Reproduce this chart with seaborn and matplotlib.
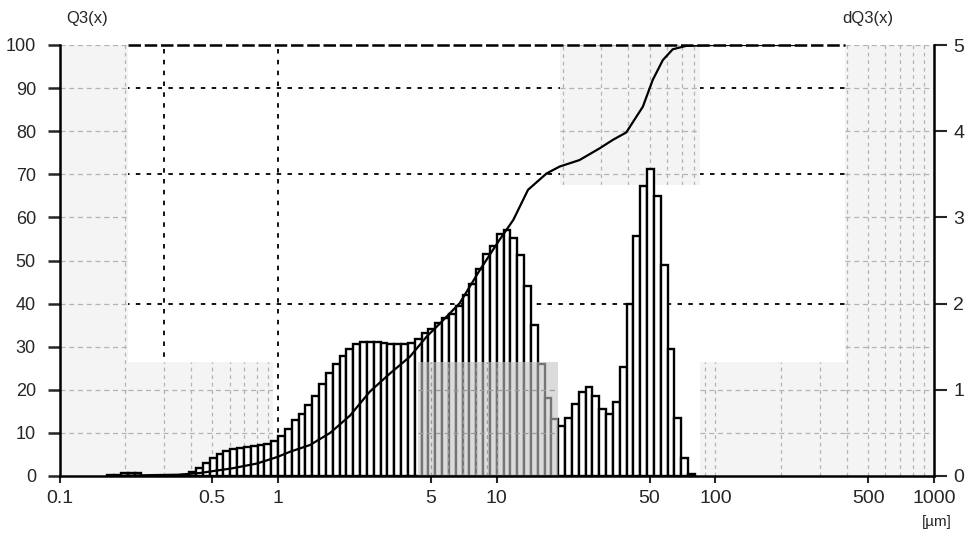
import numpy as np
import pandas as pd
import matplotlib
matplotlib.use("Agg")
import matplotlib.pyplot as plt
import seaborn as sns
from matplotlib.patches import Rectangle

# ---------------- data ----------------
# size-class index on the instrument's log grid (32 classes per decade, starting at 0.1 µm)
CLASSES_PER_DECADE = 32
CLASS_INDEX = list(range(7, 93))
# dQ3(x) per class, right axis (%)
DQ3 = [0.01, 0.01, 0.03, 0.04, 0.04, 0.005, 0.005, 0.005, 0.005, 0.005, 0.005,
       0.015, 0.05, 0.095, 0.155, 0.21, 0.25, 0.29, 0.315, 0.33, 0.34, 0.35,
       0.355, 0.37, 0.405, 0.465, 0.54, 0.65, 0.715, 0.825, 0.93, 1.065, 1.19,
       1.295, 1.39, 1.47, 1.535, 1.555, 1.56, 1.56, 1.545, 1.535, 1.535, 1.535,
       1.545, 1.585, 1.655, 1.71, 1.77, 1.835, 1.875, 1.97, 2.105, 2.225, 2.40,
       2.57, 2.67, 2.81, 2.855, 2.76, 2.56, 2.20, 1.75, 1.295, 0.905, 0.665,
       0.58, 0.675, 0.83, 0.98, 1.03, 0.925, 0.775, 0.715, 0.86, 1.27, 1.99,
       2.78, 3.365, 3.56, 3.25, 2.45, 1.47, 0.675, 0.205, 0.025]

# cumulative Q3(x), left axis (%)
Q3_SIZE = [0.18, 0.26, 0.35, 0.44, 0.62, 0.80, 0.99, 1.13, 1.40, 1.73, 2.13,
           2.63, 3.25, 4.01, 4.77, 5.5, 6.77, 8.37, 10.3, 11.9, 13.9, 16.9,
           19.4, 23.9, 29.5, 34, 39.1, 46.6, 51.7, 57.5, 63.8, 73.5, 100, 150, 259]
Q3_VALUES = [0, 0.2, 0.3, 0.7, 1.8, 2.9, 4.4, 5.6, 7.2, 10.0, 14.0,
             19.6, 23.8, 27.7, 32.3, 35.4, 40.1, 47.8, 54.8, 59.4, 66.4, 70.2,
             71.8, 73.3, 76.0, 78.0, 79.7, 85.7, 91.9, 96.5, 99.0, 99.8, 100, 100, 100]

X_TICKS = [0.1, 0.5, 1, 5, 10, 50, 100, 500, 1000]
X_TICK_LABELS = ["0.1", "0.5", "1", "5", "10", "50", "100", "500", "1000"]
Q3_TICKS = list(range(0, 101, 10))
DQ3_TICKS = [0, 1, 2, 3, 4, 5]
GRID_Q3 = [40, 70, 90]
GRID_X = [0.3, 1]

# light scan patches (x0, x1, Q3 y0, Q3 y1)
LIGHT_PATCHES = [(0.1, 0.206, 0, 100), (0.206, 0.95, 0, 26.5),
                 (19.4, 85, 67.5, 100), (85, 390, 0, 26.5), (390, 1000, 0, 100)]
DARK_PATCH = (4.35, 19.0, 0, 26.5)

assert len(CLASS_INDEX) == len(DQ3)

# ---------------- style ----------------
sns.set_style("white")
plt.rcParams["font.family"] = ["Liberation Sans", "DejaVu Sans"]
plt.rcParams["font.size"] = 12

fig = plt.figure(figsize=(9.74, 5.36), dpi=100)
ax = fig.add_axes([59.5 / 974, 60 / 536, 874.5 / 974, 431 / 536])
ax2 = ax.twinx()
ax.set_zorder(ax2.get_zorder() + 1)
ax.patch.set_visible(False)

for a in (ax, ax2):
    a.set_xscale("log")
    a.set_xlim(0.1, 1000)
ax.set_ylim(0, 100)
ax2.set_ylim(0, 5)

# class boundaries
k = np.array(CLASS_INDEX, dtype=float)
lo = 0.1 * 10 ** (k / CLASSES_PER_DECADE)
hi = 0.1 * 10 ** ((k + 1) / CLASSES_PER_DECADE)
bars_df = pd.DataFrame({"lo": lo, "hi": hi, "dq3": DQ3})

# black dotted grid remnants
for yv in GRID_Q3:
    ax2.plot([0.1, 1000], [yv, yv], transform=ax.transData, color="black",
             lw=1.3, ls=(0, (2.5, 3.5)), zorder=0.3)
for xv in GRID_X:
    ax2.plot([xv, xv], [0, 100], transform=ax.transData, color="black",
             lw=1.3, ls=(0, (2.5, 3.5)), zorder=0.3)
ax2.plot([0.206, 390], [100, 100], transform=ax.transData, color="black",
         lw=1.8, ls=(0, (5, 1.5)), zorder=0.6, clip_on=False)

# minor grid positions (shown only inside patches)
minor_x = [m * 10.0 ** e for e in range(-1, 3) for m in range(1, 10)] + [1000]
minor_y = list(range(10, 101, 10))


def add_patch(target, box, face, alpha, z, gridcolor):
    x0, x1, y0, y1 = box
    r = Rectangle((x0, y0), x1 - x0, y1 - y0, transform=ax.transData,
                  facecolor=face, edgecolor="none", alpha=alpha, zorder=z)
    target.add_patch(r)
    for xv in minor_x:
        if x0 <= xv <= x1:
            ln, = target.plot([xv, xv], [y0, y1], transform=ax.transData,
                              color=gridcolor, lw=0.9, ls=(0, (3, 3)), zorder=z + 0.05)
            ln.set_clip_path(r)
    for yv in minor_y:
        if y0 <= yv <= y1:
            ln, = target.plot([x0, x1], [yv, yv], transform=ax.transData,
                              color=gridcolor, lw=0.9, ls=(0, (4, 3)), zorder=z + 0.05)
            ln.set_clip_path(r)


for box in LIGHT_PATCHES:
    add_patch(ax2, box, "#f4f4f4", 1.0, 0.5, "#b4b4b4")

# histogram bars (dQ3, right axis)
ax2.bar(bars_df["lo"], bars_df["dq3"], width=bars_df["hi"] - bars_df["lo"],
        align="edge", facecolor="white", edgecolor="black", linewidth=1.7,
        zorder=2)

add_patch(ax2, DARK_PATCH, "#c4c4c4", 0.6, 3, "#9a9a9a")

# cumulative curve (Q3, left axis)
sns.lineplot(x=Q3_SIZE, y=Q3_VALUES, ax=ax, color="black", lw=1.6,
             sort=True, zorder=5)

# ---------------- axes cosmetics ----------------
ax.set_xlabel("")
ax.set_ylabel("")
ax.set_xticks(X_TICKS)
ax.set_xticklabels(X_TICK_LABELS)
ax.xaxis.set_minor_locator(matplotlib.ticker.NullLocator())
ax2.xaxis.set_minor_locator(matplotlib.ticker.NullLocator())
ax.set_yticks(Q3_TICKS)
ax.set_yticklabels([str(v) for v in Q3_TICKS])
ax2.set_yticks(DQ3_TICKS)
ax2.set_yticklabels([str(v) for v in DQ3_TICKS])

ax.tick_params(axis="x", direction="out", length=5, width=1.5, pad=5,
               labelsize=14, bottom=True)
ax.tick_params(axis="y", direction="out", length=9, width=1.8, pad=8,
               labelsize=13, left=True)
ax2.tick_params(axis="y", direction="out", length=9, width=1.5, pad=5,
                labelsize=14, right=True)

for a in (ax, ax2):
    a.spines["top"].set_visible(False)
    for s in ("left", "bottom", "right"):
        a.spines[s].set_color("black")
        a.spines[s].set_linewidth(1.8)
ax.spines["right"].set_visible(False)
ax2.spines["left"].set_visible(False)
ax2.spines["bottom"].set_visible(False)

fig.text(87 / 974, 1 - 18 / 536, "Q3(x)", ha="center", va="center", fontsize=12)
fig.text(868 / 974, 1 - 18 / 536, "dQ3(x)", ha="center", va="center", fontsize=12)
fig.text(937 / 974, 1 - 522 / 536, "[µm]", ha="center", va="center", fontsize=11)

fig.savefig("out.png", dpi=100, facecolor="white")
